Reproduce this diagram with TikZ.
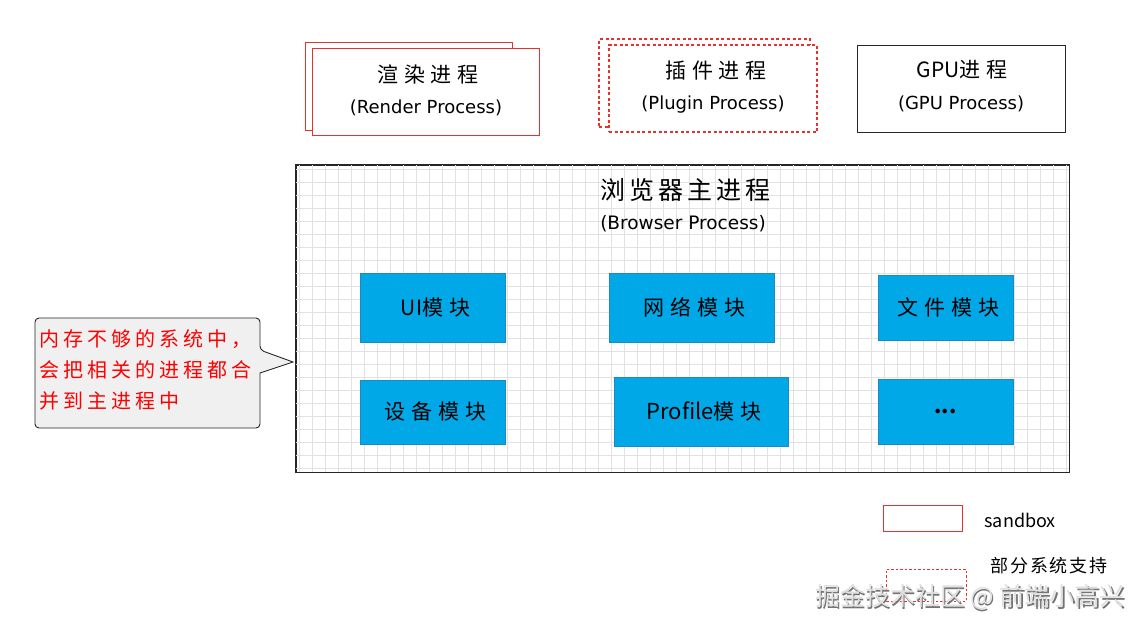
\documentclass[tikz,border=0pt]{standalone}
\usepackage{fontspec}
\setmainfont{Noto Sans CJK SC}
\newfontfamily\cjk{Noto Sans CJK SC}
\newfontfamily\cjkwide{Noto Sans CJK SC}[LetterSpace=28]
\newfontfamily\cjkmid{Noto Sans CJK SC}[LetterSpace=16]
\newfontfamily\cjknote{Noto Sans CJK SC}[LetterSpace=20]
\newfontfamily\cjknarrow{Noto Sans CJK SC}[LetterSpace=10]
\newfontfamily\latf{DejaVu Sans}
\definecolor{sbred}{HTML}{E8302C}
\definecolor{modblue}{HTML}{00A8E8}
\definecolor{modedge}{HTML}{1E88C0}
\definecolor{gridgray}{HTML}{E2E2E2}
\definecolor{notegray}{HTML}{F0F0F0}
\begin{document}
\begin{tikzpicture}[x=1pt,y=-1pt,
  procbox/.style={draw=sbred, line width=1pt, fill=white, inner sep=0pt},
  dashbox/.style={draw=sbred, line width=1.6pt, dash pattern=on 3pt off 2.5pt, fill=white, inner sep=0pt},
  gpubox/.style={draw=black!85, line width=0.9pt, fill=white, inner sep=0pt},
  modbox/.style={draw=modedge, line width=0.8pt, fill=modblue, inner sep=0pt, font=\cjkwide\fontsize{21}{24}\selectfont},
  titletxt/.style={font=\cjkwide\fontsize{21}{24}\selectfont},
  subtxt/.style={font=\latf\fontsize{18}{20}\selectfont},
  notetxt/.style={text=red, font=\cjknote\fontsize{20}{31}\selectfont, align=left},
]
\useasboundingbox (0,0) rectangle (1142,630);
\fill[white] (0,0) rectangle (1142,630);

% render process
\node[procbox, minimum width=207pt, minimum height=88pt] (renderback) at (408.5,86) {};
\node[procbox, minimum width=227pt, minimum height=87pt] (render) at (425.5,91.5) {};
\node[titletxt] (rendert) at (428,74) {渲染进程};
\node[subtxt] (renders) at (426,108) {(Render Process)};

% plugin process
\node[dashbox, minimum width=211pt, minimum height=88pt] (pluginback) at (704.5,83) {};
\node[dashbox, minimum width=208pt, minimum height=87pt] (plugin) at (713,88.5) {};
\node[titletxt] (plugint) at (716,71) {插件进程};
\node[subtxt] (plugins) at (713,105) {(Plugin Process)};

% gpu process
\node[gpubox, minimum width=208pt, minimum height=87pt] (gpu) at (961,88.5) {};
\node[titletxt] (gput) at (962,70) {{\cjk GPU}进程};
\node[subtxt] (gpus) at (961,104) {(GPU Process)};

% browser process
\node[draw=black!85, line width=0.9pt, minimum width=773pt, minimum height=307pt, inner sep=0pt] (browser) at (682.5,318.5) {};
\begin{scope}
\clip (296,165) rectangle (1069,472);
\draw[gridgray, line width=0.6pt, step=13pt] (296,165) grid (1069,472);
\end{scope}
\draw[black!85, line width=0.9pt] (browser.north west) rectangle (browser.south east);
\node[font=\cjkmid\fontsize{25}{28}\selectfont] (browsert) at (685,190) {浏览器主进程};
\node[font=\latf\fontsize{18.5}{20}\selectfont] (browsers) at (683,224) {(Browser Process)};

% modules
\node[modbox, minimum width=145pt, minimum height=69pt] (ui) at (432.5,307.5) {\hspace*{6pt}{\cjk UI}模块};
\node[modbox, minimum width=165pt, minimum height=69pt] (net) at (691.5,307.5) {\hspace*{6pt}网络模块};
\node[modbox, minimum width=135pt, minimum height=65pt] (file) at (945.5,307.5) {\hspace*{6pt}文件模块};
\node[modbox, minimum width=145pt, minimum height=64pt] (dev) at (432.5,412) {\hspace*{6pt}设备模块};
\node[modbox, minimum width=174pt, minimum height=69pt] (prof) at (701,411.5) {\hspace*{6pt}{\cjk\fontsize{22}{24}\selectfont Profile}模块};
\node[modbox, minimum width=135pt, minimum height=65pt] (more) at (945.5,411.5) {{\cjk\bfseries ...}};

% callout
\coordinate (tip) at (293,362);
\draw[black!85, line width=0.9pt, fill=notegray, rounded corners=4pt]
  (35,318) -- (260,318) -- (260,350) [sharp corners] -- (tip) -- (260,373) [rounded corners=4pt] -- (260,428) -- (35,428) -- cycle;
\node[notetxt, anchor=north west, inner sep=0pt] (note) at (39,329) {内存不够的系统中，\\会把相关的进程都合\\并到主进程中};

% legend
\node[draw=sbred, line width=0.8pt, minimum width=79pt, minimum height=26pt, inner sep=0pt] (legsb) at (922.5,518) {};
\node[anchor=west, font=\fontsize{18}{20}\selectfont] (legsbt) at (981,520) {sandbox};
\node[draw=sbred, line width=0.8pt, dash pattern=on 2.5pt off 2pt, minimum width=80pt, minimum height=32pt, inner sep=0pt] (legpart) at (926,585) {};
\node[anchor=west, font=\cjknarrow\fontsize{18}{20}\selectfont] (legpartt) at (987,566) {部分系统支持};

% watermark
\node[anchor=west, text=black!55, font=\fontsize{25}{27}\selectfont] (wmshadow) at (812.8,598.8) {掘金技术社区 @ 前端小高兴};
\node[anchor=west, text=black!12, font=\fontsize{25}{27}\selectfont] (wm) at (811.5,597.5) {掘金技术社区 @ 前端小高兴};
\end{tikzpicture}
\end{document}
